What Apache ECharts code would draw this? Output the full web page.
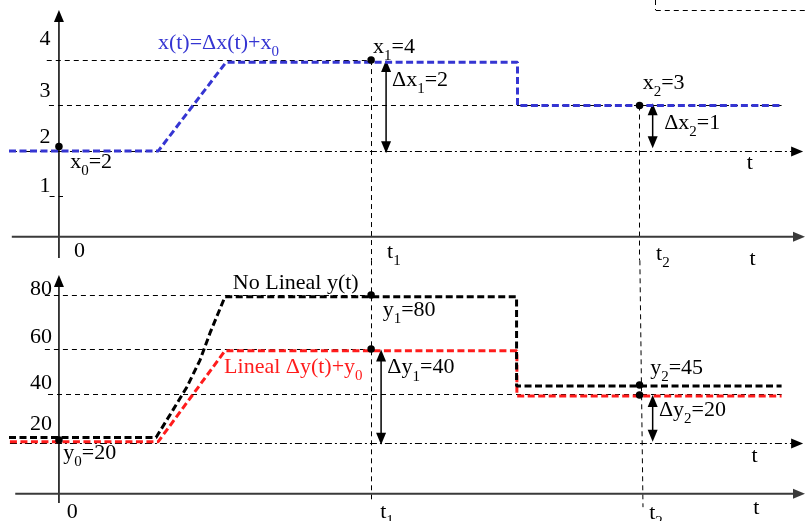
<!DOCTYPE html>
<html>
<head>
<meta charset="utf-8">
<script src="https://cdn.jsdelivr.net/npm/echarts@6.0.0/dist/echarts.min.js"></script>
<style>
  html, body { margin: 0; padding: 0; background: #ffffff; }
  #chart { width: 805px; height: 521px; }
</style>
</head>
<body>
<div id="chart"></div>
<script>
// ---------------- DATA (time in units where t1 = 10) ----------------
// Top panel: x(t)
const xCurveT = [-1.6, 3.18, 5.35, 14.69, 14.69, 23.15];
const xCurveV = [2, 2, 3.95, 3.95, 3, 3];
const xPoints = [[0, 2.1], [10, 4], [18.6, 3]];
const xTickLabels = ['4', '3', '2', '1'];
const xTickAnchorV = [4.46, 3.32, 2.30, 1.23];

// Bottom panel: y(t)
const yNonlinT = [-1.6, 3.11, 3.65, 4.1, 4.52, 4.84, 5.32, 14.66, 14.66, 23.15];
const yNonlinV = [23, 23, 34.2, 43.7, 54.7, 65.8, 80.6, 80.6, 44.1, 44.1];
const yLinT = [-1.57, 3.18, 5.32, 14.67, 14.67, 23.15];
const yLinV = [21.3, 21.3, 58.5, 58.5, 40, 40];
const yPoints = [[0, 22], [10, 81.3], [10, 59.2], [18.6, 44.5], [18.6, 40.4]];
const yTickLabels = ['80', '60', '40', '20'];
const yTickAnchorV = [83.5, 64.1, 45.2, 28.6];

// Guide segments [t1, v1, t2, v2]
const topGuides = [[-0.39, 4, 10, 4], [-0.32, 3, 23.15, 3], [-0.3, 1, 0.13, 1]];
const topBaseline = [[-1.57, 2, 23.84, 2]];
const topVerticals = [[10, 4, 10, -0.4], [18.6, 3, 18.6, -0.4]];
const topCorner = [[19.12, 5.32, 19.12, 5.1], [19.12, 5.1, 23.9, 5.1]];
const topAxisY = [[0, -0.35, 0, 5.1]];
const topAxisX = [[-1.51, 0.116, 23.9, 0.116]];
const topDeltas = [[10.48, 4, 10.48, 1.95], [19.02, 3.05, 19.02, 2.06]];

const botGuides = [[-0.45, 81, 10, 81], [-0.45, 59.1, 10, 59.1], [-0.35, 40.7, 23.15, 40.7]];
const botBaseline = [[-1.57, 20.6, 23.84, 20.6]];
const botVerticals = [[10, 95.5, 10, -2.5], [18.61, 95.5, 18.71, -5.5]];
const botAxisY = [[0, -3.8, 0, 89.5]];
const botAxisX = [[-1.4, 0, 23.9, 0]];
const botDeltas = [[10.32, 59, 10.32, 20], [19.02, 40.4, 19.02, 21.3]];

// Annotations
const topTexts = ['x{s|0}=2', 'x{s|1}=4', 'Δx{s|1}=2', 'x{s|2}=3', 'Δx{s|2}=1', 't', '0', 't{s|1}', 't{s|2}', 't'];
const topTextAnchors = [[0.36, 1.76], [10.06, 4.29], [10.67, 3.56], [18.70, 3.49], [19.39, 2.62], [22.03, 1.74], [0.48, -0.21], [10.51, -0.22], [19.13, -0.26], [22.12, -0.37]];
const topTitle = ['x(t)=Δx(t)+x{s|0}'];
const topTitleAnchor = [[3.17, 4.37]];

const botTexts = ['No Lineal y(t)', 'y{s|0}=20', 'y{s|1}=80', 'Δy{s|1}=40', 'y{s|2}=45', 'Δy{s|2}=20', 't', '0', 't{s|1}', 't{s|2}', 't'];
const botTextAnchors = [[5.57, 86.0], [0.14, 16.6], [10.37, 75.2], [10.52, 51.6], [18.94, 51.4], [19.22, 34.2], [22.19, 15.4], [0.25, -7.7], [10.29, -7.6], [18.91, -7.9], [22.24, -5.9]];
const botRedTitle = ['Lineal Δy(t)+y{s|0}'];
const botRedAnchor = [[5.29, 51.8]];

// ---------------- STYLE / HELPERS ----------------
const BLUE = '#3535d2';
const RED = '#ff1c1c';
const FONT = 'Liberation Serif';

function zip(ts, vs) { return ts.map((t, i) => [t, vs[i]]); }

function crisp(v) { return Math.round(v - 0.5) + 0.5; }

function segSeries(data, g, st) {
  return {
    type: 'custom', xAxisIndex: g, yAxisIndex: g, silent: true, data: data,
    renderItem: function (params, api) {
      const a = api.coord([api.value(0), api.value(1)]);
      const b = api.coord([api.value(2), api.value(3)]);
      if (st.crisp) {
        if (Math.abs(a[1] - b[1]) < 0.01) { a[1] = b[1] = crisp(a[1]); }
        if (Math.abs(a[0] - b[0]) < 0.01) { a[0] = b[0] = crisp(a[0]); }
      }
      const dx = b[0] - a[0], dy = b[1] - a[1];
      const len = Math.hypot(dx, dy) || 1;
      const ux = dx / len, uy = dy / len;
      const L = st.headLen || 12, W = st.headHalf || 5;
      const children = [];
      let a2 = a, b2 = b;
      function head(p, sx, sy) {
        const bx = p[0] - sx * L, by = p[1] - sy * L;
        return { type: 'polygon', shape: { points: [[p[0], p[1]], [bx - sy * W, by + sx * W], [bx + sy * W, by - sx * W]] }, style: { fill: st.color } };
      }
      if (st.startHead) { children.push(head(a, -ux, -uy)); a2 = [a[0] + ux * L * 0.8, a[1] + uy * L * 0.8]; }
      if (st.endHead) { children.push(head(b, ux, uy)); b2 = [b[0] - ux * L * 0.8, b[1] - uy * L * 0.8]; }
      children.unshift({ type: 'line', shape: { x1: a2[0], y1: a2[1], x2: b2[0], y2: b2[1] },
        style: { stroke: st.color, lineWidth: st.width, lineDash: st.dash || null, fill: null } });
      return { type: 'group', children: children };
    }
  };
}

function textSeries(texts, anchors, g, color, align) {
  return {
    type: 'custom', xAxisIndex: g, yAxisIndex: g, silent: true, data: anchors,
    renderItem: function (params, api) {
      const p = api.coord([api.value(0), api.value(1)]);
      return { type: 'text', x: p[0], y: p[1], style: {
        text: texts[params.dataIndex], fill: color, fontFamily: FONT, fontSize: 22,
        align: align, verticalAlign: 'middle',
        rich: { s: { fontSize: 15, lineHeight: 15, padding: [18, 0, 0, 0], fill: color, fontFamily: FONT } }
      } };
    }
  };
}

function curve(data, g, color) {
  return { type: 'line', xAxisIndex: g, yAxisIndex: g, data: data, symbol: 'none', silent: true,
    lineStyle: { color: color, width: 3, type: [7, 3.5] }, z: 3 };
}

function dots(data, g) {
  return { type: 'scatter', xAxisIndex: g, yAxisIndex: g, data: data, symbolSize: 7.5, silent: true,
    itemStyle: { color: '#000', opacity: 1 }, z: 5 };
}

const thinDash = { color: '#000', width: 1, dash: [5, 4], crisp: true };
const dashDot = { color: '#000', width: 1, dash: [7, 3, 2, 3], endHead: true, crisp: true };
const axisStY = { color: '#000', width: 1.5, endHead: true };
const axisStX = { color: '#3a3a3a', width: 2, endHead: true };
const deltaSt = { color: '#000', width: 1.5, startHead: true, endHead: true, headLen: 12, headHalf: 5 };

const option = {
  animation: false,
  backgroundColor: '#ffffff',
  grid: [
    { left: 9, right: 0, top: 0, height: 264.8, outerBoundsMode: 'none' },
    { left: 9, right: 0, top: 259.1, height: 263.95, outerBoundsMode: 'none' }
  ],
  xAxis: [
    { type: 'value', gridIndex: 0, min: -1.6, max: 23.9, show: false },
    { type: 'value', gridIndex: 1, min: -1.6, max: 23.9, show: false }
  ],
  yAxis: [
    { type: 'value', gridIndex: 0, min: -0.5, max: 5.32, show: false },
    { type: 'value', gridIndex: 1, min: -12, max: 96, show: false }
  ],
  series: [
    // top panel
    segSeries(topGuides, 0, thinDash),
    segSeries(topCorner, 0, thinDash),
    segSeries(topVerticals, 0, thinDash),
    segSeries(topBaseline, 0, dashDot),
    segSeries(topAxisY, 0, axisStY),
    segSeries(topAxisX, 0, axisStX),
    segSeries(topDeltas, 0, deltaSt),
    curve(zip(xCurveT, xCurveV), 0, BLUE),
    dots(xPoints, 0),
    textSeries(topTexts, topTextAnchors, 0, '#000', 'left'),
    textSeries(topTitle, topTitleAnchor, 0, BLUE, 'left'),
    textSeries(xTickLabels, xTickAnchorV.map(v => [-0.27, v]), 0, '#000', 'right'),
    // bottom panel
    segSeries(botGuides, 1, thinDash),
    segSeries(botVerticals, 1, thinDash),
    segSeries(botBaseline, 1, dashDot),
    segSeries(botAxisY, 1, axisStY),
    segSeries(botAxisX, 1, axisStX),
    segSeries(botDeltas, 1, deltaSt),
    curve(zip(yLinT, yLinV), 1, RED),
    curve(zip(yNonlinT, yNonlinV), 1, '#000'),
    dots(yPoints, 1),
    textSeries(botTexts, botTextAnchors, 1, '#000', 'left'),
    textSeries(botRedTitle, botRedAnchor, 1, RED, 'left'),
    textSeries(yTickLabels, yTickAnchorV.map(v => [-0.22, v]), 1, '#000', 'right')
  ]
};

const chart = echarts.init(document.getElementById('chart'));
chart.setOption(option);
</script>
</body>
</html>
